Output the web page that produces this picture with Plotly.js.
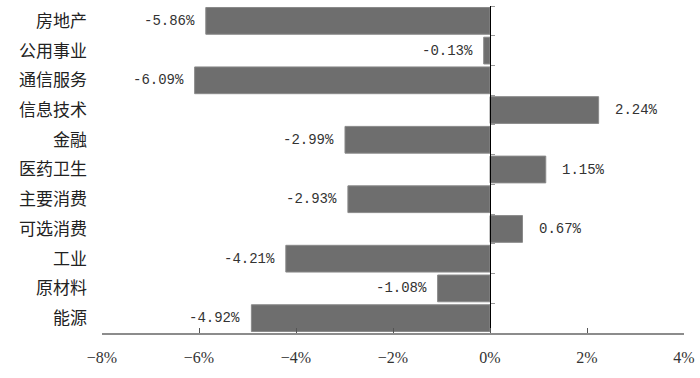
<!DOCTYPE html>
<html>
<head>
<meta charset="utf-8">
<script src="https://cdn.plot.ly/plotly-3.0.1.min.js"></script>
<style>html,body{margin:0;padding:0;background:#fff;}#chart{width:700px;height:378px;}</style>
</head>
<body>
<div id="chart"></div>
<script>
const categories = ["房地产","公用事业","通信服务","信息技术","金融","医药卫生","主要消费","可选消费","工业","原材料","能源"];
const values = [-5.86,-0.13,-6.09,2.24,-2.99,1.15,-2.93,0.67,-4.21,-1.08,-4.92];
const tickVals = [-8,-6,-4,-2,0,2,4];
const tickText = ["−8%","−6%","−4%","−2%","0%","2%","4%"];

const numFont = {family: "Liberation Mono, DejaVu Sans Mono, monospace", size: 14, color: "#333"};

const bars = {
  type: "bar", orientation: "h",
  x: values, y: categories,
  marker: {color: "#6e6e6e", line: {color: "#8a8a8a", width: 1}},
  hoverinfo: "skip", cliponaxis: false
};
const dummy = {
  type: "bar", orientation: "h",
  x: values, y: categories, yaxis: "y2",
  marker: {color: "rgba(0,0,0,0)"}, hoverinfo: "skip", showlegend: false
};

const annotations = values.map((v, i) => ({
  x: v, y: categories[i], xref: "x", yref: "y",
  text: (v < 0 ? "-" : "") + Math.abs(v).toFixed(2) + "%",
  showarrow: false,
  xanchor: v < 0 ? "right" : "left",
  xshift: v < 0 ? -9 : 14,
  font: numFont
}));

const layout = {
  width: 700, height: 378,
  margin: {l: 102, r: 16, t: 6, b: 45},
  paper_bgcolor: "#fff", plot_bgcolor: "#fff",
  showlegend: false,
  bargap: 0.1,
  xaxis: {
    range: [-8, 4], tickvals: tickVals, ticktext: tickText,
    showgrid: false, zeroline: false,
    showline: true, linecolor: "#8c8c8c", linewidth: 1.5,
    ticks: "inside", ticklen: 5, tickcolor: "#555", tickwidth: 1,
    ticklabelstandoff: 9,
    tickfont: {family: "Liberation Serif, DejaVu Serif, serif", size: 16, color: "#333"}
  },
  yaxis: {
    type: "category", categoryarray: categories,
    range: [10.5, -0.5],
    showgrid: false, zeroline: false, showline: false, ticks: "",
    ticklabelstandoff: 14,
    tickfont: {family: "Noto Sans CJK SC, sans-serif", size: 17, color: "#222"}
  },
  yaxis2: {
    type: "category", categoryarray: categories,
    range: [10.5, -0.5],
    overlaying: "y", anchor: "free", position: 8/12, side: "right",
    showgrid: false, zeroline: false, showticklabels: false,
    showline: true, linecolor: "#000", linewidth: 1,
    ticks: "outside", tickson: "boundaries", ticklen: 4, tickcolor: "#999"
  },
  annotations: annotations
};

Plotly.newPlot("chart", [bars, dummy], layout, {displayModeBar: false, staticPlot: true});
</script>
</body>
</html>
